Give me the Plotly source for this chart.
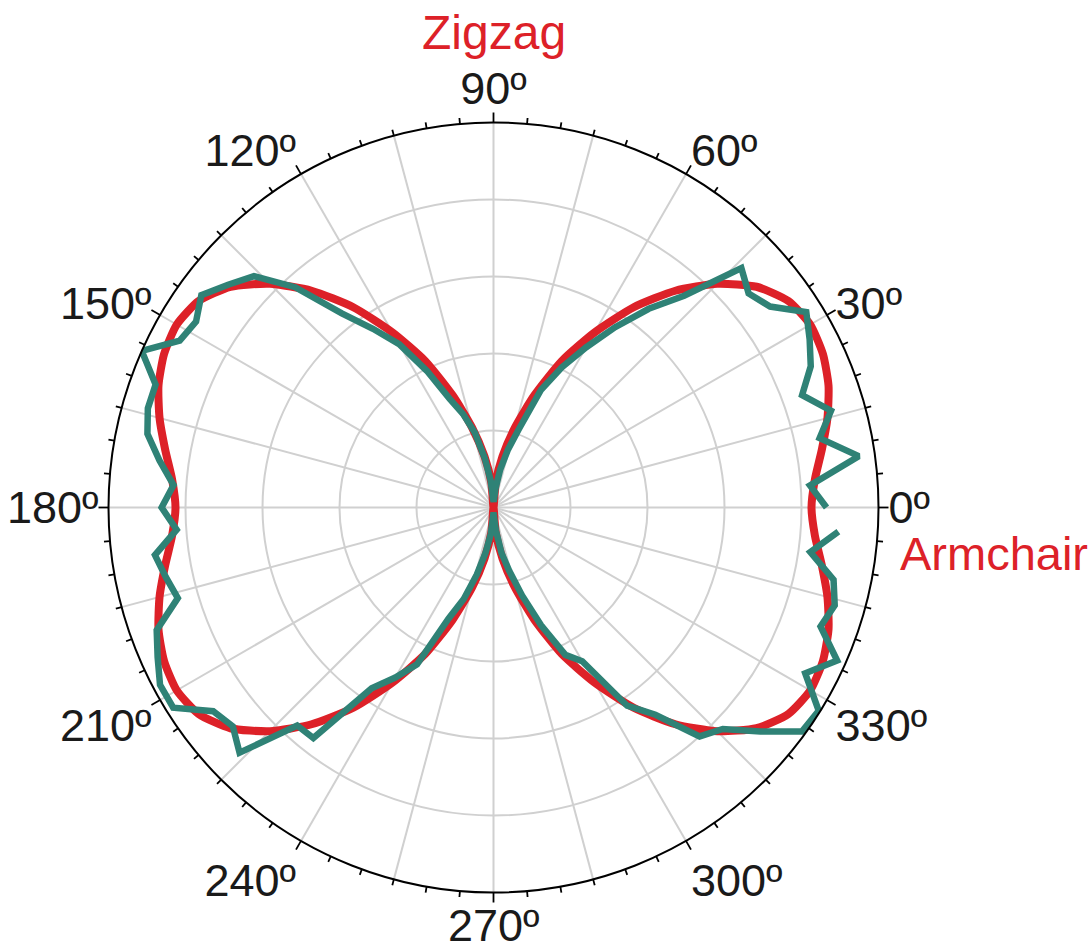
import math
import plotly.graph_objects as go

# Polarisation angle (degrees) and normalised intensity
fit_theta = list(range(0, 361, 5))
fit_r = [
    0.826, 0.838, 0.866, 0.898, 0.926, 0.944, 0.950, 0.935, 0.892, 0.822,
    0.735, 0.635, 0.525, 0.420, 0.310, 0.215, 0.135, 0.065, 0.000,
    0.065, 0.135, 0.215, 0.310, 0.420, 0.525, 0.635, 0.735, 0.822, 0.892,
    0.935, 0.950, 0.944, 0.926, 0.898, 0.866, 0.838, 0.826,
    0.838, 0.866, 0.898, 0.926, 0.944, 0.950, 0.935, 0.892, 0.822,
    0.735, 0.635, 0.525, 0.420, 0.310, 0.215, 0.135, 0.065, 0.000,
    0.065, 0.135, 0.215, 0.310, 0.420, 0.525, 0.635, 0.735, 0.822, 0.892,
    0.935, 0.950, 0.944, 0.926, 0.898, 0.866, 0.838, 0.826,
]

meas_theta = list(range(0, 360, 4))
meas_r = [
    0.865, 0.824, 0.958, 0.866, 0.912, 0.853, 0.902, 0.930, 0.958, 0.888,
    0.865, 0.895, 0.740, 0.655, 0.565, 0.480, 0.405, 0.330, 0.215, 0.155,
    0.100, 0.050, 0.015, 0.020, 0.070, 0.130, 0.200, 0.255, 0.305, 0.395,
    0.490, 0.560, 0.640, 0.770, 0.865, 0.900, 0.938, 0.911, 0.923, 1.000,
    0.934, 0.934, 0.919, 0.876, 0.833, 0.862, 0.825, 0.888, 0.870, 0.853,
    0.931, 0.955, 0.981, 0.981, 0.900, 0.884, 0.917, 0.762, 0.760, 0.566,
    0.510, 0.453, 0.311, 0.250, 0.180, 0.120, 0.070, 0.020, 0.020, 0.060,
    0.120, 0.170, 0.240, 0.330, 0.426, 0.461, 0.621, 0.683, 0.800, 0.828,
    0.905, 0.990, 0.996, 0.917, 0.977, 0.904, 0.922, 0.903, 0.831, 0.898,
]

grid_angles = list(range(0, 360, 15))
# the 270º label is placed separately so it stays inside the page
tick_labels = [f"{a}º" if a % 30 == 0 and a != 270 else "" for a in grid_angles]
bottom_label = "270º"
ring_values = [0.2, 0.4, 0.6, 0.8]

RED = "#dd2128"
TEAL = "#2f8276"
GRID = "#d0d0d0"
FONT = "Liberation Sans, Arial, Helvetica, sans-serif"

W, H = 1089, 952
# pixel box holding the polar disc
cx0, cx1 = 108.5, 878.5
cy0, cy1 = 122.5, 892.5
cx, cy = (cx0 + cx1) / 2, (cy0 + cy1) / 2
R = (cx1 - cx0) / 2

fig = go.Figure()
fig.add_trace(go.Scatterpolar(
    r=fit_r, theta=fit_theta, mode="lines", name="Fit",
    line=dict(color=RED, width=8, shape="spline", smoothing=0.6)))
fig.add_trace(go.Scatterpolar(
    r=meas_r, theta=meas_theta, mode="lines", name="Measured",
    line=dict(color=TEAL, width=6.5)))

# Tick marks on the outer circle: long every 30°, short every 5°
shapes = []
for a in range(0, 360, 5):
    L = 10 if a % 30 == 0 else 6
    c, s = math.cos(math.radians(a)), math.sin(math.radians(a))
    x0, y0 = cx + R * c, cy - R * s
    x1, y1 = cx + (R + L) * c, cy - (R + L) * s
    shapes.append(dict(type="line", xref="paper", yref="paper",
                       x0=x0 / W, y0=1 - y0 / H, x1=x1 / W, y1=1 - y1 / H,
                       line=dict(color="black", width=1.8)))

fig.update_layout(
    width=W, height=H,
    margin=dict(l=0, r=0, t=0, b=0),
    paper_bgcolor="white",
    showlegend=False,
    shapes=shapes,
    polar=dict(
        domain=dict(x=[cx0 / W, cx1 / W], y=[1 - cy1 / H, 1 - cy0 / H]),
        bgcolor="white",
        radialaxis=dict(
            range=[0, 1], tickmode="array", tickvals=ring_values,
            showticklabels=False, ticks="", showline=False,
            gridcolor=GRID, gridwidth=2),
        angularaxis=dict(
            direction="counterclockwise", rotation=0,
            tickmode="array", tickvals=grid_angles, ticktext=tick_labels,
            showline=True, linecolor="black", linewidth=2,
            gridcolor=GRID, gridwidth=2,
            ticks="",
            tickfont=dict(family=FONT, size=45, color="#1a1a1a")),
    ),
    annotations=[
        dict(text="Zigzag", x=494 / W, y=1 - 33 / H, xref="paper", yref="paper",
             xanchor="center", yanchor="middle", showarrow=False,
             font=dict(family=FONT, size=48, color=RED)),
        dict(text="Armchair", x=994 / W, y=1 - 553 / H, xref="paper", yref="paper",
             xanchor="center", yanchor="middle", showarrow=False,
             font=dict(family=FONT, size=47, color=RED)),
        dict(text=bottom_label, x=cx / W, y=0, xref="paper", yref="paper",
             xanchor="center", yanchor="bottom", showarrow=False, borderpad=0,
             font=dict(family=FONT, size=45, color="#1a1a1a")),
    ],
)

fig.write_html("out.html")
